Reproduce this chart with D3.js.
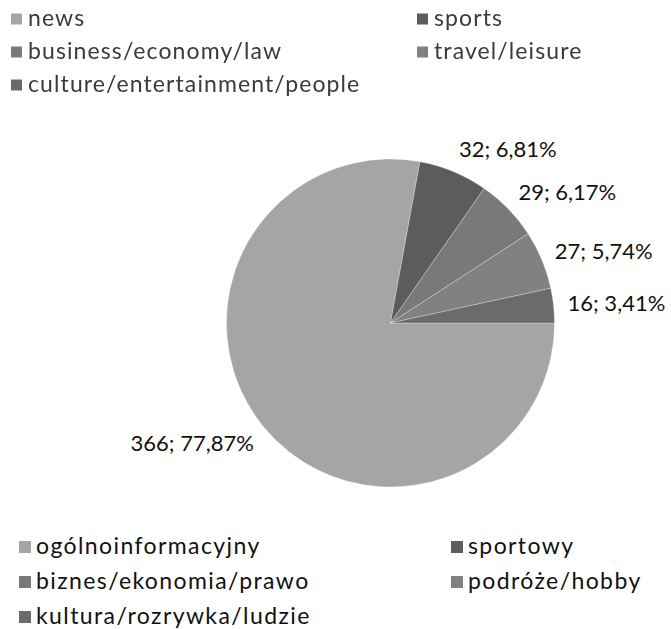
<!DOCTYPE html>
<html>
<head>
<meta charset="utf-8">
<script src="https://cdn.jsdelivr.net/npm/d3@7"></script>
<style>
  html, body { margin: 0; padding: 0; background: #fff; }
  svg { display: block; }
  text { font-family: Lato, "Open Sans", sans-serif; }
</style>
</head>
<body>
<svg id="chart" width="671" height="629"></svg>
<script>
// Category names (English legend on top, Polish legend below)
const categoriesEn = ["news", "sports", "business/economy/law", "travel/leisure", "culture/entertainment/people"];
const categoriesPl = ["ogólnoinformacyjny", "sportowy", "biznes/ekonomia/prawo", "podróże/hobby", "kultura/rozrywka/ludzie"];
// Number of titles per category and their share
const counts = [366, 32, 29, 27, 16];
const shares = [77.87, 6.81, 6.17, 5.74, 3.41];
const colors = ["#a5a5a5", "#5c5c5c", "#797979", "#818181", "#6b6b6b"];
// Legend order (two columns, row-major)
const legendOrder = [0, 1, 2, 3, 4];

const svg = d3.select("#chart");
const W = 671, H = 629;
const cx = 390.5, cy = 323, R = 164;

svg.append("rect").attr("width", W).attr("height", H).attr("fill", "#fff");

const fmt = v => v.toFixed(2).replace(".", ",");

// ---- pie ----
const pie = d3.pie().sort(null).value(d => d.count)
  .startAngle(Math.PI / 2).endAngle(Math.PI / 2 + 2 * Math.PI);
const arc = d3.arc().innerRadius(0).outerRadius(R);
const data = counts.map((c, i) => ({ count: c, share: shares[i], color: colors[i] }));
const arcs = pie(data);

const g = svg.append("g").attr("transform", `translate(${cx},${cy})`);
g.selectAll("path").data(arcs).join("path")
  .attr("d", arc)
  .attr("fill", d => d.data.color)
  .attr("stroke", "rgba(255,255,255,0.35)")
  .attr("stroke-width", 0.8)
  .attr("stroke-linejoin", "round");

// ---- data labels, placed just outside each slice ----
const labelSize = 22, labelH = 20, labelGap = 14;
const labels = g.selectAll("text.lbl").data(arcs).join("text")
  .attr("class", "lbl")
  .attr("font-size", labelSize)
  .attr("fill", "#111")
  .attr("text-anchor", "middle")
  .text(d => `${d.data.count}; ${fmt(d.data.share)}%`);

labels.each(function (d) {
  const a = (d.startAngle + d.endAngle) / 2;
  const w = this.getComputedTextLength();
  const s = Math.sin(a), c = Math.cos(a);
  const qx = (R + labelGap) * s, qy = -(R + labelGap) * c;
  const x = qx + Math.sign(s) * w / 2;
  const y = qy - c * labelH / 2;
  d3.select(this).attr("x", x).attr("y", y + labelSize * 0.36);
});

// ---- legends ----
function legend(names, opts) {
  const lg = svg.append("g");
  if (opts.filter) lg.attr("filter", opts.filter);
  legendOrder.forEach((idx, k) => {
    const col = k % 2, row = Math.floor(k / 2);
    const x = opts.colX[col], base = opts.rowY[row];
    lg.append("rect")
      .attr("x", x).attr("y", base - 7 - opts.sq / 2)
      .attr("width", opts.sq).attr("height", opts.sq)
      .attr("fill", colors[idx]);
    lg.append("text")
      .attr("x", x + opts.sq + opts.pad).attr("y", base)
      .attr("font-size", opts.size)
      .attr("letter-spacing", opts.spacing)
      .attr("fill", opts.textColor)
      .text(names[idx]);
  });
}

const defs = svg.append("defs");
defs.append("filter").attr("id", "soft")
  .append("feGaussianBlur").attr("stdDeviation", 0.7);

legend(categoriesEn, {
  colX: [11, 417], rowY: [26, 59, 92], sq: 11, pad: 6,
  size: 23, spacing: 1.1, textColor: "#3a3a3a", filter: "url(#soft)"
});
legend(categoriesPl, {
  colX: [19, 451], rowY: [554, 589, 624], sq: 12, pad: 5,
  size: 23, spacing: 1.4, textColor: "#111"
});
</script>
</body>
</html>
